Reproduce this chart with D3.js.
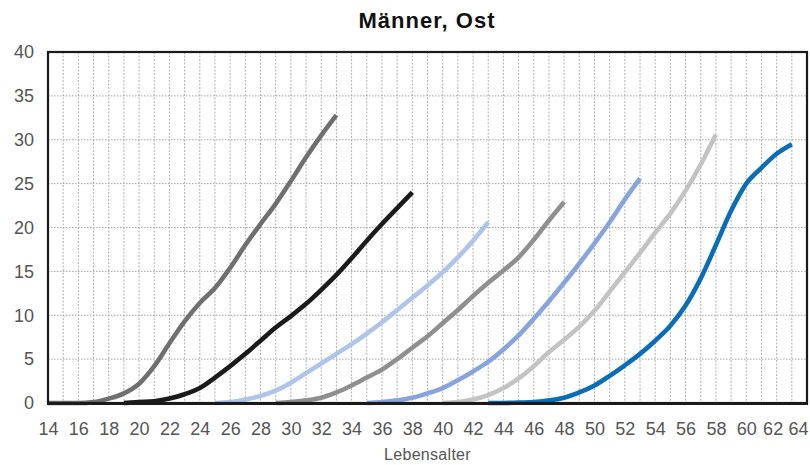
<!DOCTYPE html>
<html>
<head>
<meta charset="utf-8">
<script src="https://cdn.jsdelivr.net/npm/d3@7"></script>
<style>
  html, body { margin: 0; padding: 0; background: #fff; }
  svg { display: block; }
</style>
</head>
<body>
<svg id="chart" width="810" height="465"></svg>
<script>
// ---- data ----
const title = "Männer, Ost";
const xLabel = "Lebensalter";
const xTicks = d3.range(14, 65, 2);
const yTicks = [0, 5, 10, 15, 20, 25, 30, 35, 40];

const ages1 = d3.range(14, 34);
const vals1 = [0, 0, 0, 0.1, 0.5, 1.1, 2.2, 4.2, 6.8, 9.3, 11.4, 13.1, 15.4, 18.0, 20.4, 22.7, 25.3, 28.0, 30.5, 32.8];

const ages2 = d3.range(19, 39);
const vals2 = [0, 0.1, 0.2, 0.5, 1.0, 1.7, 2.9, 4.2, 5.6, 7.1, 8.6, 9.9, 11.3, 12.9, 14.6, 16.5, 18.5, 20.4, 22.2, 24.0];

const ages3 = d3.range(25, 44);
const vals3 = [0, 0.1, 0.4, 0.8, 1.4, 2.3, 3.4, 4.5, 5.6, 6.7, 7.9, 9.2, 10.6, 12.0, 13.4, 14.9, 16.6, 18.5, 20.6];

const ages4 = d3.range(29, 49);
const vals4 = [0, 0.1, 0.3, 0.6, 1.2, 2.0, 2.9, 3.8, 5.0, 6.3, 7.6, 9.1, 10.6, 12.2, 13.7, 15.1, 16.6, 18.6, 20.8, 22.9];

const ages5 = d3.range(35, 54);
const vals5 = [0, 0.1, 0.3, 0.6, 1.1, 1.7, 2.6, 3.6, 4.7, 6.1, 7.7, 9.6, 11.6, 13.7, 15.9, 18.2, 20.6, 23.2, 25.6];

const ages6 = d3.range(40, 59);
const vals6 = [0, 0.1, 0.4, 0.9, 1.7, 2.8, 4.2, 5.8, 7.2, 8.7, 10.5, 12.7, 14.9, 17.1, 19.4, 21.6, 24.2, 27.2, 30.6];

const ages7 = d3.range(43, 64);
const vals7 = [0, 0, 0.05, 0.1, 0.3, 0.6, 1.2, 2.0, 3.1, 4.3, 5.6, 7.1, 8.8, 11.1, 14.2, 18.0, 21.9, 25.0, 26.8, 28.4, 29.5];

const seriesColors = ["#6f6f6f", "#1b1b1b", "#aec5e9", "#8f8f8f", "#87a4dc", "#c3c3c3", "#0b6db7"];

const series = [
  [ages1, vals1], [ages2, vals2], [ages3, vals3], [ages4, vals4],
  [ages5, vals5], [ages6, vals6], [ages7, vals7]
].map(([a, v], i) => ({ color: seriesColors[i], points: a.map((age, j) => ({ age, v: v[j] })) }));

// ---- layout ----
const L = 48, R = 807, T = 52, B = 403;
const svg = d3.select("#chart");
const x = d3.scaleLinear().domain([14, 64]).range([L, R]);
const y = d3.scaleLinear().domain([0, 40]).range([B, T]);

// grid
const grid = svg.append("g");
grid.selectAll("line.v").data(d3.range(15, 64)).enter().append("line")
  .attr("x1", d => x(d)).attr("x2", d => x(d)).attr("y1", T).attr("y2", B)
  .attr("stroke", "#b0b0b0").attr("stroke-width", 1).attr("stroke-dasharray", "2,1.5");
grid.selectAll("line.h").data(yTicks.filter(d => d > 0 && d < 40)).enter().append("line")
  .attr("x1", L).attr("x2", R).attr("y1", d => y(d)).attr("y2", d => y(d))
  .attr("stroke", "#a5a5a5").attr("stroke-width", 1).attr("stroke-dasharray", "1.5,1.5");

// lines
const line = d3.line().x(d => x(d.age)).y(d => y(d.v)).curve(d3.curveMonotoneX);
svg.append("g").selectAll("path").data(series).enter().append("path")
  .attr("d", d => line(d.points))
  .attr("fill", "none").attr("stroke", d => d.color)
  .attr("stroke-width", 4.6).attr("stroke-linejoin", "round").attr("stroke-linecap", "butt");

// frame
svg.append("rect").attr("x", L).attr("y", T).attr("width", R - L).attr("height", B - T)
  .attr("fill", "none").attr("stroke", "#1a1a1a").attr("stroke-width", 2.2);
svg.append("line").attr("x1", L - 1).attr("x2", R + 1).attr("y1", B + 0.5).attr("y2", B + 0.5)
  .attr("stroke", "#1a1a1a").attr("stroke-width", 3);

// axes
const xAxis = d3.axisBottom(x).tickValues(xTicks).tickSize(0).tickPadding(0).tickFormat(d3.format("d"));
const gx = svg.append("g").attr("transform", `translate(0,${B + 18})`).call(xAxis);
gx.select(".domain").remove();
gx.selectAll("text").attr("font-family", "Liberation Sans, Arial, sans-serif")
  .attr("font-size", 18).attr("fill", "#555").attr("dy", "0.75em");
gx.selectAll(".tick").filter(d => d === 64).select("text").attr("text-anchor", "end").attr("x", 808 - x(64));
gx.selectAll(".tick").filter(d => d === 62).select("text").attr("x", -4);

const yAxis = d3.axisLeft(y).tickValues(yTicks).tickSize(0).tickPadding(0);
const gy = svg.append("g").attr("transform", `translate(34,0)`).call(yAxis);
gy.select(".domain").remove();
gy.selectAll("text").attr("font-family", "Liberation Sans, Arial, sans-serif")
  .attr("font-size", 18).attr("fill", "#555");

// labels
svg.append("text").attr("x", (L + R) / 2).attr("y", 460).attr("text-anchor", "middle")
  .attr("font-family", "Liberation Sans, Arial, sans-serif").attr("font-size", 16).attr("fill", "#555")
  .attr("letter-spacing", 0.3)
  .text(xLabel);
svg.append("text").attr("x", 427).attr("y", 28).attr("text-anchor", "middle")
  .attr("font-family", "Liberation Sans, Arial, sans-serif").attr("font-size", 22).attr("font-weight", "bold")
  .attr("fill", "#111").attr("letter-spacing", 1)
  .text(title);
</script>
</body>
</html>
